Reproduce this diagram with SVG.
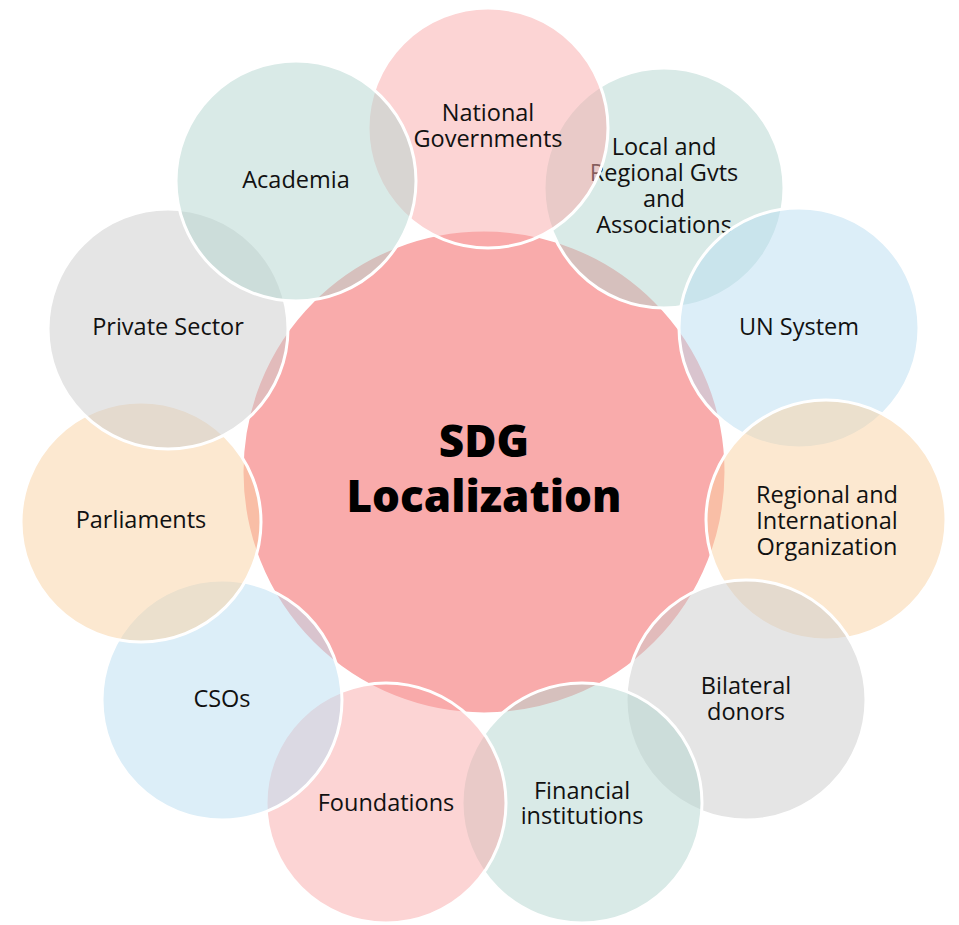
<svg xmlns="http://www.w3.org/2000/svg" width="959" height="925" viewBox="0 0 959 925">
<style>
.c{stroke:#fff;stroke-width:3;fill-opacity:0.5}
.pink{fill:#F9A9A9}
.teal{fill:#B3D5CF}
.blue{fill:#B9DDF1}
.peach{fill:#F9D1A1}
.gray{fill:#CBCBCB}
.hub{fill:#F9ABAB;stroke:#fff;stroke-width:3}
.t{font-family:"Open Sans","Liberation Sans",sans-serif;font-size:23.5px;fill:#111;text-anchor:middle}
.h{font-family:"Open Sans","Liberation Sans",sans-serif;font-size:44px;font-weight:800;fill:#000;text-anchor:middle}
</style>
<rect width="959" height="925" fill="#fff"/>
<g id="connectors"></g>
<g id="center">
<circle class="hub" cx="484" cy="472" r="242"/>
<text class="h" x="484" y="457">SDG</text>
<text class="h" x="484" y="512">Localization</text>
</g>
<g id="local">
<circle class="c teal" cx="664" cy="188" r="120"/>
<text class="t" x="664" y="155">Local and</text>
<text class="t" x="664" y="181">Regional Gvts</text>
<text class="t" x="664" y="207">and</text>
<text class="t" x="664" y="233">Associations</text>
</g>
<g id="un">
<circle class="c blue" cx="799" cy="328" r="120"/>
<text class="t" x="799" y="335">UN System</text>
</g>
<g id="regional">
<circle class="c peach" cx="826" cy="520" r="120"/>
<text class="t" x="827" y="503">Regional and</text>
<text class="t" x="827" y="529">International</text>
<text class="t" x="827" y="555">Organization</text>
</g>
<g id="bilateral">
<circle class="c gray" cx="746" cy="700" r="120"/>
<text class="t" x="746" y="694">Bilateral</text>
<text class="t" x="746" y="720">donors</text>
</g>
<g id="financial">
<circle class="c teal" cx="582" cy="803" r="120"/>
<text class="t" x="582" y="799">Financial</text>
<text class="t" x="582" y="824">institutions</text>
</g>
<g id="foundations">
<circle class="c pink" cx="386" cy="803" r="120"/>
<text class="t" x="386" y="811">Foundations</text>
</g>
<g id="csos">
<circle class="c blue" cx="222" cy="700" r="120"/>
<text class="t" x="222" y="707">CSOs</text>
</g>
<g id="parliaments">
<circle class="c peach" cx="141" cy="522" r="120"/>
<text class="t" x="141" y="528">Parliaments</text>
</g>
<g id="private">
<circle class="c gray" cx="168" cy="329" r="120"/>
<text class="t" x="168" y="335">Private Sector</text>
</g>
<g id="national">
<circle class="c pink" cx="488" cy="128" r="120"/>
<text class="t" x="488" y="121">National</text>
<text class="t" x="488" y="147">Governments</text>
</g>
<g id="academia">
<circle class="c teal" cx="296" cy="181" r="120"/>
<text class="t" x="296" y="188">Academia</text>
</g>
</svg>
